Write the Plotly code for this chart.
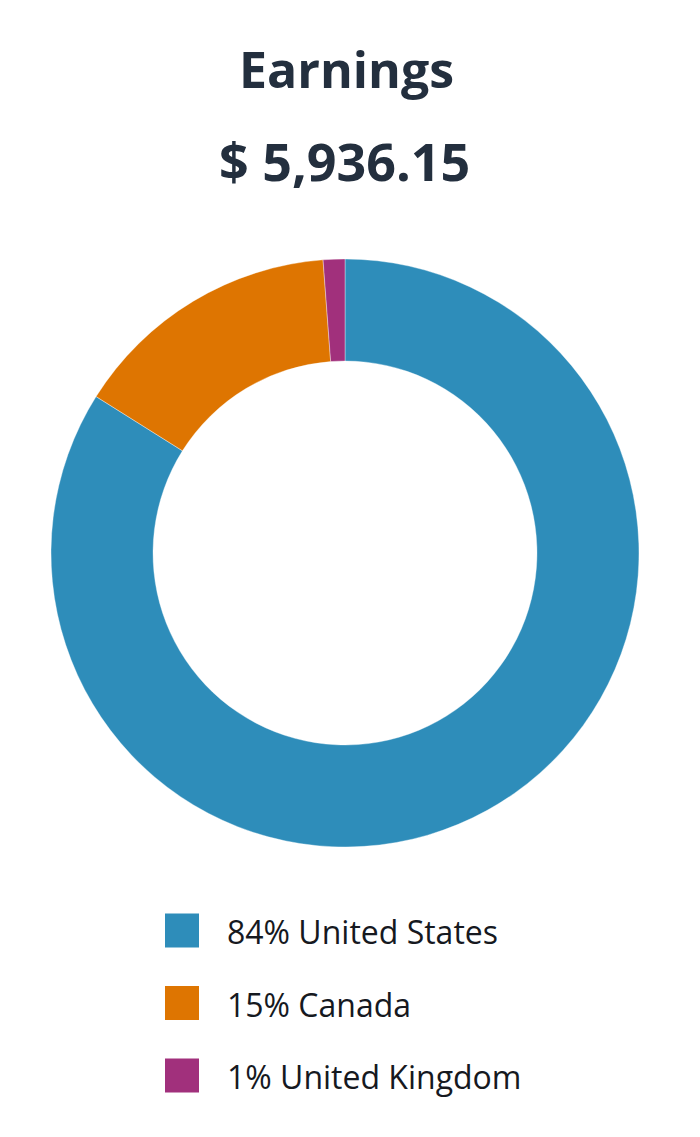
import plotly.graph_objects as go

title_text = "Earnings"
total_text = "$ 5,936.15"
countries = ["United States", "Canada", "United Kingdom"]
earnings = [4982.25, 883.30, 70.60]
pct_labels = ["84%", "15%", "1%"]
colors = ["#2E8DBA", "#DE7501", "#A1307C"]

W, H = 700, 1137
OFF = 8  # page body margin offset

def px_x(px):
    return (px - OFF) / W

def py(px):
    return 1 - (px - OFF) / H

fig = go.Figure(go.Pie(
    labels=countries,
    values=earnings,
    hole=0.653,
    sort=False,
    direction="clockwise",
    rotation=0,
    marker=dict(colors=colors, line=dict(color="rgba(255,255,255,0.6)", width=0.6)),
    textinfo="none",
    hoverinfo="label+value+percent",
    showlegend=False,
    domain=dict(x=[px_x(51), px_x(639)], y=[py(847), py(259)]),
))

annotations = [
    dict(text="<b>%s</b>" % title_text, x=px_x(346), y=py(69), xref="paper", yref="paper",
         xanchor="center", yanchor="middle", showarrow=False,
         font=dict(family="Open Sans", size=50, color="#232F3E")),
    dict(text="<b>%s</b>" % total_text, x=px_x(344), y=py(160), xref="paper", yref="paper",
         xanchor="center", yanchor="middle", showarrow=False,
         font=dict(family="Open Sans", size=52, color="#232F3E")),
]
shapes = []
row0, step = 930.5, 72.5
for i, (c, p, col) in enumerate(zip(countries, pct_labels, colors)):
    cy = row0 + i * step
    shapes.append(dict(type="rect", xref="paper", yref="paper",
                       x0=px_x(165), x1=px_x(199), y0=py(cy + 17), y1=py(cy - 17),
                       fillcolor=col, line=dict(width=0)))
    annotations.append(dict(text="%s %s" % (p, c), x=px_x(225), y=py(cy + 1),
                            xref="paper", yref="paper", xanchor="left", yanchor="middle",
                            showarrow=False,
                            font=dict(family="Open Sans", size=32, color="#16191F")))

fig.update_layout(
    width=W, height=H,
    margin=dict(l=0, r=0, t=0, b=0),
    paper_bgcolor="white", plot_bgcolor="white",
    annotations=annotations, shapes=shapes,
)
fig.write_html("out.html")
